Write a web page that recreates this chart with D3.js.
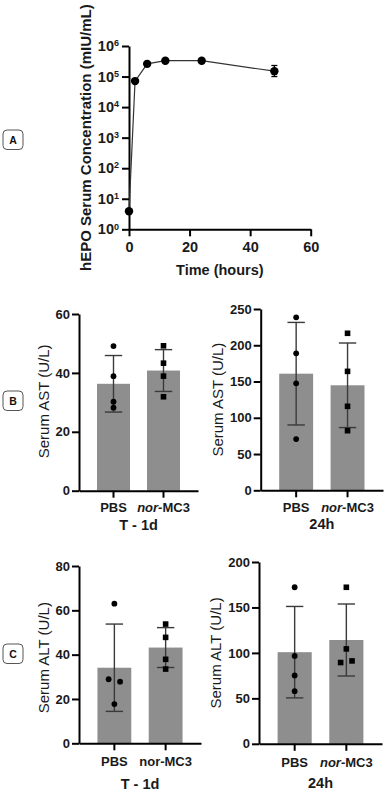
<!DOCTYPE html>
<html><head><meta charset="utf-8">
<script src="https://cdn.jsdelivr.net/npm/d3@7"></script>
<style>
body{margin:0;background:#fff}
svg{display:block}
text{font-family:"Liberation Sans",Arial,Helvetica,sans-serif}
</style>
</head><body>
<svg id="c" width="385" height="792"></svg>
<script>
// ---------- DATA ----------
// Panel A: hEPO serum concentration (mIU/mL) over time (hours)
const hepoTime = [0, 2, 6, 12, 24, 48];
const hepoConc = [3.9, 7.1e4, 2.6e5, 3.3e5, 3.3e5, 1.5e5];
const hepoLow  = [3.9, 6.6e4, 2.2e5, 3.0e5, 3.0e5, 1.0e5];
const hepoHigh = [3.9, 7.7e4, 3.1e5, 3.6e5, 3.6e5, 2.3e5];
const logTicks = [1, 10, 100, 1e3, 1e4, 1e5, 1e6];
const timeTicks = [0, 20, 40, 60];

// Panels B & C
const groups = ["PBS", "nor-MC3"];

const astPreMean = [36.3, 40.8];
const astPreSD   = [9.6, 7.1];
const astPrePBS  = [49.1, 38.9, 30.2, 28.2];
const astPreMC3  = [49.2, 43.3, 38.9, 31.9];
const astPreTicks = [0, 20, 40, 60];

const ast24Mean = [160.8, 144.8];
const ast24SD   = [70.7, 58.3];
const ast24PBS  = [238.5, 188.9, 147.5, 70.7];
const ast24MC3  = [216.5, 164.0, 115.8, 82.2];
const ast24Ticks = [0, 50, 100, 150, 200, 250];

const altPreMean = [34.1, 43.2];
const altPreSD   = [19.7, 9.0];
const altPrePBS  = [63.0, 28.9, 27.8, 17.7];
const altPreMC3  = [53.8, 47.8, 37.9, 33.5];
const altPreTicks = [0, 20, 40, 60, 80];

const alt24Mean = [100.8, 114.2];
const alt24SD   = [50.3, 39.6];
const alt24PBS  = [172.2, 96.7, 75.2, 57.9];
const alt24MC3  = [172.2, 104.4, 89.4, 91.2];
const alt24Ticks = [0, 50, 100, 150, 200];

const timeLabels = ["T - 1d", "24h"];
const yLabelAST = "Serum AST (U/L)";
const yLabelALT = "Serum ALT (U/L)";

// ---------- DRAW ----------
const svg = d3.select("#c");
const FONT = '"Liberation Sans",Arial,Helvetica,sans-serif';

function styleAxis(g, fs){
  g.select(".domain").attr("stroke","#000").attr("stroke-width",2);
  g.selectAll(".tick line").attr("stroke","#000").attr("stroke-width",2);
  g.selectAll(".tick text").attr("font-family",FONT).attr("font-weight","bold")
    .attr("font-size",fs).attr("fill","#1a1a1a");
}

function panelLabel(letter, y){
  const g = svg.append("g");
  g.append("rect").attr("x",3).attr("y",y).attr("width",20).attr("height",19.5)
    .attr("rx",4).attr("fill","#fff").attr("stroke","#555").attr("stroke-width",1);
  g.append("text").attr("x",13).attr("y",y+10).attr("text-anchor","middle")
    .attr("dominant-baseline","central").attr("font-weight","bold").attr("font-size",10.5)
    .attr("fill","#111").text(letter);
}

// ----- Panel A -----
(function(){
  const x = d3.scaleLinear().domain([0,60]).range([129,310.7]);
  const y = d3.scaleLog().domain([1,1e6]).range([229.3,46]);
  const ya = svg.append("g").attr("transform","translate(129,0)")
    .call(d3.axisLeft(y).tickValues(logTicks).tickSize(7).tickSizeOuter(0).tickPadding(3).tickFormat(()=>"10"));
  styleAxis(ya, 14.5);
  ya.selectAll(".tick text").each(function(d){
    d3.select(this).append("tspan").attr("dy","-0.55em").attr("font-size",9)
      .text(Math.round(Math.log10(d)));
  });
  const xa = svg.append("g").attr("transform","translate(0,229.3)")
    .call(d3.axisBottom(x).tickValues(timeTicks).tickSize(7).tickSizeOuter(0).tickPadding(5).tickFormat(d3.format("d")));
  styleAxis(xa, 14.5);

  svg.append("text").attr("transform","translate(85,"+((y(1)+y(1e6))/2)+") rotate(-90)")
    .attr("text-anchor","middle").attr("dominant-baseline","central")
    .attr("font-weight","bold").attr("font-size",15).attr("fill","#1a1a1a")
    .text("hEPO Serum Concentration (mIU/mL)");
  svg.append("text").attr("x",(x(0)+x(60))/2).attr("y",275)
    .attr("text-anchor","middle").attr("font-weight","bold").attr("font-size",14.5).attr("fill","#1a1a1a")
    .text("Time (hours)");

  const pts = hepoTime.map((t,i)=>({t, v:hepoConc[i], lo:hepoLow[i], hi:hepoHigh[i]}));
  svg.append("path").datum(pts).attr("fill","none").attr("stroke","#333").attr("stroke-width",1.2)
    .attr("d", d3.line().x(d=>x(d.t)).y(d=>y(d.v)));
  const eb = svg.append("g").attr("stroke","#000").attr("stroke-width",1.3);
  pts.forEach(d=>{
    if (d.hi > d.lo){
      eb.append("line").attr("x1",x(d.t)).attr("x2",x(d.t)).attr("y1",y(d.lo)).attr("y2",y(d.hi));
      [d.lo,d.hi].forEach(v=>eb.append("line").attr("x1",x(d.t)-3).attr("x2",x(d.t)+3).attr("y1",y(v)).attr("y2",y(v)));
    }
  });
  svg.append("g").selectAll("circle").data(pts).join("circle")
    .attr("cx",d=>x(d.t)).attr("cy",d=>y(d.v)).attr("r",4.2).attr("fill","#000");
})();

// ----- Bar panels -----
function barPanel(cfg){
  const x = d3.scaleBand().domain(groups).range([cfg.x0,cfg.x1]).paddingInner(0.34).paddingOuter(0.36);
  const y = d3.scaleLinear().domain([0,cfg.ticks[cfg.ticks.length-1]]).range([cfg.yb,cfg.yt]);
  const bw = x.bandwidth();
  const g = svg.append("g");
  // bars
  g.selectAll("rect.bar").data(groups).join("rect").attr("class","bar")
    .attr("x",d=>x(d)).attr("y",(d,i)=>y(cfg.mean[i])).attr("width",bw)
    .attr("height",(d,i)=>y(0)-y(cfg.mean[i])).attr("fill","#8e8e8e");
  // error bars
  groups.forEach((gr,i)=>{
    const cx = x(gr)+bw/2;
    const lo = cfg.mean[i]-cfg.sd[i], hi = cfg.mean[i]+cfg.sd[i];
    const e = g.append("g").attr("stroke","#3a3a3a").attr("stroke-width",1.4);
    e.append("line").attr("x1",cx).attr("x2",cx).attr("y1",y(lo)).attr("y2",y(hi));
    [lo,hi].forEach(v=>e.append("line").attr("x1",cx-8.7).attr("x2",cx+8.7).attr("y1",y(v)).attr("y2",y(v)));
  });
  // points with simple collision offset
  [cfg.pbs, cfg.mc3].forEach((vals,gi)=>{
    const cx = x(groups[gi])+bw/2;
    const offs = vals.map(()=>0);
    for (let i=0;i<vals.length;i++) for (let j=i+1;j<vals.length;j++){
      if (Math.abs(y(vals[i])-y(vals[j])) < 5 && offs[i]===0 && offs[j]===0){ offs[i]=-5.7; offs[j]=5.7; }
    }
    vals.forEach((v,k)=>{
      const px = cx+offs[k], py = y(v);
      if (gi===0) g.append("circle").attr("cx",px).attr("cy",py).attr("r",2.9).attr("fill","#000");
      else g.append("rect").attr("x",px-2.8).attr("y",py-2.8).attr("width",5.6).attr("height",5.6).attr("fill","#000");
    });
  });
  // axes
  const ya = svg.append("g").attr("transform","translate("+cfg.x0+",0)")
    .call(d3.axisLeft(y).tickValues(cfg.ticks).tickSize(7).tickSizeOuter(0).tickPadding(2).tickFormat(d3.format("d")));
  styleAxis(ya, 13);
  const xa = svg.append("g").attr("transform","translate(0,"+cfg.yb+")")
    .call(d3.axisBottom(x).tickSize(7).tickSizeOuter(0).tickPadding(cfg.xpad));
  styleAxis(xa, 13);
  xa.selectAll(".tick text").each(function(d){
    const t = d3.select(this);
    if (cfg.italic && d.indexOf("-")>0){
      const parts = d.split("-");
      t.text(null);
      t.append("tspan").attr("font-style","italic").text(parts[0]+"-");
      t.append("tspan").text(parts.slice(1).join("-"));
    }
  });
  // y label
  const bb = ya.node().getBBox();
  svg.append("text").attr("transform","translate("+(cfg.x0+bb.x-12.5)+","+((cfg.yb+cfg.yt)/2+cfg.ylOff)+") rotate(-90)")
    .attr("text-anchor","middle").attr("dominant-baseline","central")
    .attr("font-size",15).attr("fill","#1a1a1a").text(cfg.ylabel);
  // group title
  svg.append("text").attr("x",(cfg.x0+cfg.x1)/2).attr("y",cfg.titleY)
    .attr("text-anchor","middle").attr("font-weight","bold").attr("font-size",14.5).attr("fill","#1a1a1a")
    .text(cfg.title);
}

barPanel({x0:79, x1:198, yb:490.7, yt:314, ticks:astPreTicks, mean:astPreMean, sd:astPreSD,
  pbs:astPrePBS, mc3:astPreMC3, ylabel:yLabelAST, title:timeLabels[0], titleY:530, italic:true, xpad:5.5, ylOff:-1});
barPanel({x0:260.7, x1:383, yb:490.3, yt:309, ticks:ast24Ticks, mean:ast24Mean, sd:ast24SD,
  pbs:ast24PBS, mc3:ast24MC3, ylabel:yLabelAST, title:timeLabels[1], titleY:529, italic:true, xpad:5.5, ylOff:0});
barPanel({x0:79, x1:201, yb:743.3, yt:566, ticks:altPreTicks, mean:altPreMean, sd:altPreSD,
  pbs:altPrePBS, mc3:altPreMC3, ylabel:yLabelALT, title:timeLabels[0], titleY:788.5, italic:false, xpad:6.5, ylOff:3});
barPanel({x0:259, x1:382, yb:743.8, yt:562, ticks:alt24Ticks, mean:alt24Mean, sd:alt24SD,
  pbs:alt24PBS, mc3:alt24MC3, ylabel:yLabelALT, title:timeLabels[1], titleY:788, italic:true, xpad:6.5, ylOff:0});

panelLabel("A", 130);
panelLabel("B", 391);
panelLabel("C", 644);
</script>
</body></html>
